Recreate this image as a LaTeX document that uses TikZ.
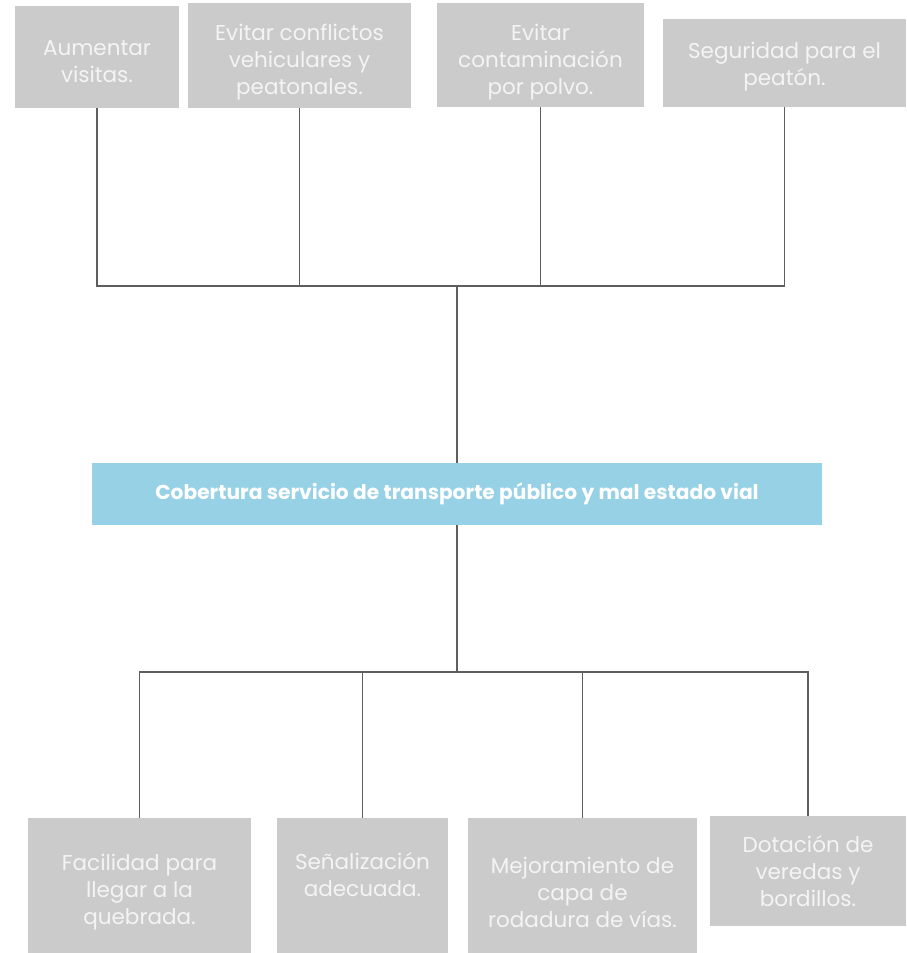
\documentclass[tikz,border=0pt]{standalone}
\usepackage{fontspec}
\setmainfont{Poppins}
\definecolor{boxgray}{HTML}{CBCBCB}
\definecolor{boxtext}{HTML}{F4F4F4}
\definecolor{lightblue}{HTML}{97D1E6}
\definecolor{linegray}{HTML}{5E5E5E}
\newcommand{\toppad}{\rule{0pt}{30pt}}
\newcommand{\smallpad}{\rule{0pt}{24pt}}
\begin{document}
\begin{tikzpicture}[x=1pt,y=-1pt,
  gbox/.style={fill=boxgray, draw=none, inner sep=0pt, align=center, text=boxtext,
    font=\fontsize{21.5}{27}\selectfont},
  cbox/.style={fill=lightblue, draw=none, inner sep=0pt, align=center, text=white,
    font=\fontsize{20.2}{22}\selectfont\bfseries},
  conn/.style={draw=linegray, line width=1.4pt}]
\useasboundingbox (0,0) rectangle (906,953);
% top boxes
\node[gbox, minimum width=164pt, minimum height=102pt] (t1) at (97,57) {\smallpad Aumentar\\visitas.};
\node[gbox, minimum width=223pt, minimum height=105pt] (t2) at (299.5,55.5) {\toppad Evitar conflictos\\vehiculares y\\peatonales.};
\node[gbox, minimum width=207pt, minimum height=104pt] (t3) at (540.5,55) {\toppad Evitar\\contaminación\\por polvo.};
\node[gbox, minimum width=243pt, minimum height=88pt] (t4) at (784.5,63) {\smallpad Seguridad para el\\peatón.};
% center
\node[cbox, minimum width=730pt, minimum height=62pt] (c) at (457,494) {Cobertura servicio de transporte público y mal estado vial};
% bottom boxes
\node[gbox, minimum width=223pt, minimum height=135pt] (b1) at (139.5,885.5) {\toppad Facilidad para\\llegar a la\\quebrada.};
\node[gbox, minimum width=171pt, minimum height=135pt] (b2) at (362.5,885.5) {\toppad Señalización\\adecuada.\\\strut};
\node[gbox, minimum width=229pt, minimum height=135pt] (b3) at (582.5,885.5) {\toppad Mejoramiento de\\capa de\\rodadura de vías.};
\node[gbox, minimum width=196pt, minimum height=110pt] (b4) at (808,871) {Dotación de\\veredas y\\bordillos.};
% junctions
\coordinate (jt) at (457,286);
\coordinate (jb) at (457,672);
% connectors
\foreach \n in {t1,t2,t3,t4}{\draw[conn] (\n.south) |- (jt);}
\draw[conn] (jt) -- (c.north);
\draw[conn] (c.south) -- (jb);
\foreach \n in {b1,b2,b3,b4}{\draw[conn] (jb) -| (\n.north);}
\end{tikzpicture}
\end{document}
